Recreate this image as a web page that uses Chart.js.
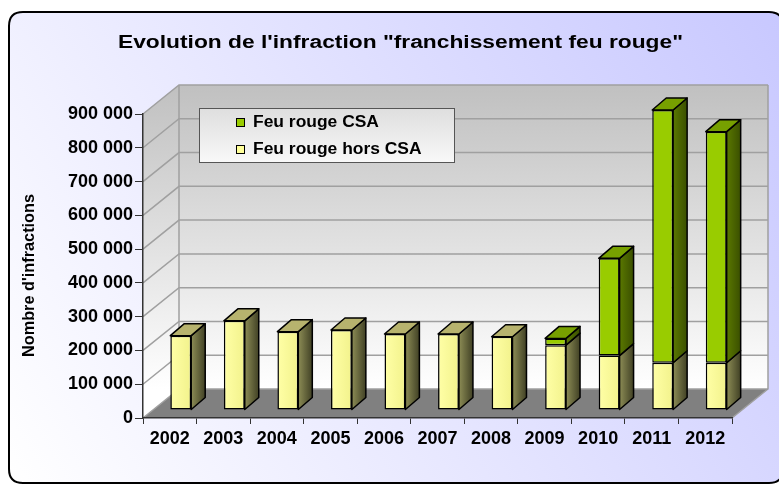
<!DOCTYPE html>
<html>
<head>
<meta charset="utf-8">
<script src="https://cdn.jsdelivr.net/npm/chart.js@4.4.1/dist/chart.umd.min.js"></script>
<style>
html, body { margin: 0; padding: 0; background: #fff; }
</style>
</head>
<body>
<canvas id="main-chart" width="779" height="484"></canvas>
<script>
var years = ['2002', '2003', '2004', '2005', '2006', '2007', '2008', '2009', '2010', '2011', '2012'];
var horsCSA = [220000, 264000, 232000, 237000, 225000, 225000, 217000, 192000, 161000, 140000, 140000];
var avecCSA = [null, null, null, null, null, null, null, 20000, 288000, 748000, 684000];
var yMax = 900000;
var yStep = 100000;
var chartTitle = 'Evolution de l\'infraction "franchissement feu rouge"';
var yTitle = "Nombre d'infractions";

var fontFamily = '"Liberation Sans", Arial, sans-serif';
var wallDepth = { x: 36, y: -29 };
var barShift = { x: 11, y: -8 };
var barDepth = { x: 14, y: -12 };
var barPct = 0.39;
// side / top faces for each dataset (same order as datasets)
var faces = [
    { side: ['#8c8c55', '#414125'], top: '#b7b36e' },
    { side: ['#5a7800', '#3a4f00'], top: '#77a000' }
];

function fmt(v) {
    return String(v).replace(/\B(?=(\d{3})+(?!\d))/g, ' ');
}

function wideText(ctx, text, x, y, sx) {
    ctx.save();
    ctx.translate(x, y);
    ctx.scale(sx, 1);
    ctx.fillText(text, 0, 0);
    ctx.restore();
}

function roundRect(ctx, x, y, w, h, r) {
    ctx.beginPath();
    ctx.moveTo(x + r, y);
    ctx.lineTo(x + w - r, y);
    ctx.quadraticCurveTo(x + w, y, x + w, y + r);
    ctx.lineTo(x + w, y + h - r);
    ctx.quadraticCurveTo(x + w, y + h, x + w - r, y + h);
    ctx.lineTo(x + r, y + h);
    ctx.quadraticCurveTo(x, y + h, x, y + h - r);
    ctx.lineTo(x, y + r);
    ctx.quadraticCurveTo(x, y, x + r, y);
    ctx.closePath();
}

// light gradient on the yellow front faces
function yellowFront(c) {
    var xs = c.chart.scales.x;
    if (!xs || xs.right === undefined || c.dataIndex === undefined) return '#ffff99';
    var cx = xs.getPixelForValue(c.dataIndex);
    var w = (xs.right - xs.left) / years.length * barPct;
    if (!isFinite(cx)) return '#ffff99';
    var g = c.chart.ctx.createLinearGradient(cx - w / 2, 0, cx + w / 2, 0);
    g.addColorStop(0, '#ffffa6');
    g.addColorStop(1, '#f2f28c');
    return g;
}

var decor3d = {
    id: 'decor3d',
    beforeDraw: function(chart) {
        var ctx = chart.ctx, a = chart.chartArea, ys = chart.scales.y;
        var L = a.left, R = a.right, T = a.top, B = a.bottom, dx = wallDepth.x, dy = wallDepth.y;
        ctx.save();
        ctx.fillStyle = '#fff';
        ctx.fillRect(0, 0, chart.width, chart.height);

        // frame
        var g = ctx.createLinearGradient(9, 483, 779, 12);
        g.addColorStop(0, '#ffffff');
        g.addColorStop(1, '#c8c8ff');
        roundRect(ctx, 9, 12, 774, 471, 14);
        ctx.fillStyle = g;
        ctx.fill();
        ctx.lineWidth = 2;
        ctx.strokeStyle = '#000';
        ctx.stroke();

        // title
        ctx.fillStyle = '#000';
        ctx.font = 'bold 18px ' + fontFamily;
        ctx.textAlign = 'center';
        ctx.textBaseline = 'alphabetic';
        wideText(ctx, chartTitle, 400.5, 48, 565 / ctx.measureText(chartTitle).width);

        // y axis title
        ctx.font = 'bold 16px ' + fontFamily;
        var sy = 163 / ctx.measureText(yTitle).width;
        ctx.save();
        ctx.translate(34, 275.5);
        ctx.rotate(-Math.PI / 2);
        wideText(ctx, yTitle, 0, 0, sy);
        ctx.restore();

        // back wall + left wall
        var gw = ctx.createLinearGradient(0, T + dy, 0, B + dy);
        gw.addColorStop(0, '#c0c0c0');
        gw.addColorStop(1, '#ffffff');
        ctx.fillStyle = gw;
        ctx.fillRect(L + dx, T + dy, R - L, B - T);
        ctx.beginPath();
        ctx.moveTo(L, T);
        ctx.lineTo(L + dx, T + dy);
        ctx.lineTo(L + dx, B + dy);
        ctx.lineTo(L, B);
        ctx.closePath();
        ctx.fill();

        // floor
        ctx.beginPath();
        ctx.moveTo(L, B);
        ctx.lineTo(R, B);
        ctx.lineTo(R + dx, B + dy);
        ctx.lineTo(L + dx, B + dy);
        ctx.closePath();
        ctx.fillStyle = '#808080';
        ctx.fill();

        // grid lines
        ctx.strokeStyle = '#a0a0a0';
        ctx.lineWidth = 1.5;
        ys.ticks.forEach(function(t) {
            var py = ys.getPixelForValue(t.value);
            ctx.beginPath();
            ctx.moveTo(L, py);
            ctx.lineTo(L + dx, py + dy);
            ctx.lineTo(R + dx, py + dy);
            ctx.stroke();
        });
        ctx.beginPath();
        ctx.moveTo(L + dx, T + dy);
        ctx.lineTo(L + dx, B + dy);
        ctx.moveTo(R + dx, T + dy);
        ctx.lineTo(R + dx, B + dy);
        ctx.lineTo(R, B);
        ctx.stroke();
        ctx.restore();
    },
    beforeDatasetsDraw: function(chart) {
        chart.ctx.save();
        chart.ctx.translate(barShift.x, barShift.y);
    },
    afterDatasetsDraw: function(chart) {
        var ctx = chart.ctx;
        var sets = chart.data.datasets;
        ctx.lineWidth = 1.5;
        ctx.lineJoin = 'round';
        ctx.strokeStyle = '#000';
        years.forEach(function(yr, i) {
            var topIdx = -1;
            sets.forEach(function(ds, k) { if (ds.data[i] != null) topIdx = k; });
            sets.forEach(function(ds, k) {
                if (ds.data[i] == null) return;
                var el = chart.getDatasetMeta(k).data[i];
                var left = el.x - el.width / 2, right = el.x + el.width / 2;
                var top = Math.min(el.y, el.base), bot = Math.max(el.y, el.base);
                var bx = barDepth.x, by = barDepth.y;
                var gs = ctx.createLinearGradient(right, 0, right + bx, 0);
                gs.addColorStop(0, faces[k].side[0]);
                gs.addColorStop(1, faces[k].side[1]);
                ctx.beginPath();
                ctx.moveTo(right, top);
                ctx.lineTo(right + bx, top + by);
                ctx.lineTo(right + bx, bot + by);
                ctx.lineTo(right, bot);
                ctx.closePath();
                ctx.fillStyle = gs;
                ctx.fill();
                ctx.stroke();
                if (k === topIdx) {
                    ctx.beginPath();
                    ctx.moveTo(left, top);
                    ctx.lineTo(left + bx, top + by);
                    ctx.lineTo(right + bx, top + by);
                    ctx.lineTo(right, top);
                    ctx.closePath();
                    ctx.fillStyle = faces[k].top;
                    ctx.fill();
                    ctx.stroke();
                }
            });
        });
        ctx.restore();
    },
    afterDraw: function(chart) {
        var ctx = chart.ctx;
        ctx.save();
        var lg = ctx.createLinearGradient(0, 108, 0, 162);
        lg.addColorStop(0, '#dedede');
        lg.addColorStop(1, '#f8f8f8');
        ctx.fillStyle = lg;
        ctx.fillRect(199.5, 108.5, 255, 54);
        ctx.strokeStyle = '#555';
        ctx.lineWidth = 1;
        ctx.strokeRect(199.5, 108.5, 255, 54);
        ctx.font = 'bold 16px ' + fontFamily;
        ctx.textAlign = 'left';
        ctx.textBaseline = 'alphabetic';
        var swatch = ['#ffff99', '#99cc00'];
        var sets = chart.data.datasets.map(function(ds, k) { return { label: ds.label, color: swatch[k] }; }).reverse();
        sets.forEach(function(it, j) {
            var base = 127 + j * 27;
            ctx.fillStyle = it.color;
            ctx.fillRect(236.5, base - 8.5, 8, 8);
            ctx.strokeStyle = '#000';
            ctx.strokeRect(236.5, base - 8.5, 8, 8);
            ctx.fillStyle = '#000';
            wideText(ctx, it.label, 253, base, 1.09);
        });
        ctx.restore();
    }
};

var chartEl = document.querySelector('#main-chart').getContext('2d');
var myChart = new Chart(chartEl, {
    type: 'bar',
    data: {
        labels: years,
        datasets: [{
            label: 'Feu rouge hors CSA',
            data: horsCSA,
            backgroundColor: yellowFront,
            borderColor: '#000',
            borderWidth: 1.5,
            borderSkipped: false,
            barPercentage: barPct,
            categoryPercentage: 1
        }, {
            label: 'Feu rouge CSA',
            data: avecCSA,
            backgroundColor: '#99cc00',
            borderColor: '#000',
            borderWidth: 1.5,
            borderSkipped: false,
            barPercentage: barPct,
            categoryPercentage: 1
        }]
    },
    options: {
        responsive: false,
        animation: false,
        devicePixelRatio: 1,
        layout: { padding: { top: 114, right: 47, left: 0, bottom: 0 } },
        plugins: {
            legend: { display: false },
            title: { display: false },
            tooltip: { enabled: false }
        },
        datasets: { bar: { clip: false } },
        scales: {
            x: {
                stacked: true,
                afterFit: function(s) { s.height = 66; },
                grid: { drawOnChartArea: false, tickLength: 6, color: '#333', offset: true },
                border: { color: '#333', width: 1.5 },
                ticks: { color: '#000', padding: 4, font: { family: fontFamily, size: 18, weight: 'bold' } }
            },
            y: {
                stacked: true,
                min: 0,
                max: yMax,
                afterFit: function(s) { s.width = 143; },
                grid: { drawOnChartArea: false, tickLength: 8, color: '#333' },
                border: { color: '#333', width: 1.5 },
                ticks: {
                    stepSize: yStep,
                    color: '#000',
                    padding: 2,
                    font: { family: fontFamily, size: 18, weight: 'bold' },
                    callback: function(v) { return fmt(v); }
                }
            }
        }
    },
    plugins: [decor3d]
});
</script>
</body>
</html>
